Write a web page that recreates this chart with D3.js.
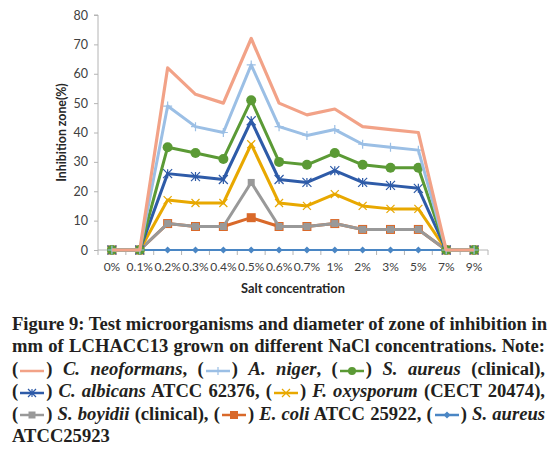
<!DOCTYPE html>
<html><head><meta charset="utf-8">
<script src="https://cdn.jsdelivr.net/npm/d3@7"></script>
<style>
html,body{margin:0;padding:0;background:#fff;}
#wrap{position:relative;width:555px;height:450px;overflow:hidden;}
#chart{position:absolute;left:0;top:0;}
#cap{position:absolute;left:12px;top:313px;width:533px;font-family:"Liberation Serif",serif;font-weight:bold;font-size:18.6px;color:#231f20;line-height:22.4px;}
#cap .ln{white-space:nowrap;text-align:justify;text-align-last:justify;height:22.4px;}
#cap .ln.last{text-align-last:left;}
#cap svg{display:inline-block;vertical-align:middle;margin:0 1px;}
</style></head>
<body><div id="wrap"><svg id="chart" width="555" height="305"></svg><div id="cap"></div></div>
<script>
const categories = ["0%","0.1%","0.2%","0.3%","0.4%","0.5%","0.6%","0.7%","1%","2%","3%","5%","7%","9%"];
const yTicks = [0,10,20,30,40,50,60,70,80];
const seriesNames = ["S. aureus ATCC25923","E. coli ATCC 25922","S. boyidii (clinical)","F. oxysporum (CECT 20474)","C. albicans ATCC 62376","S. aureus (clinical)","A. niger","C. neoformans"];
const sAureusATCC = [0,0,0,0,0,0,0,0,0,0,0,0,0,0];
const eColi       = [0,0,9,8,8,11,8,8,9,7,7,7,0,0];
const sBoyidii    = [0,0,9,8,8,23,8,8,9,7,7,7,0,0];
const fOxysporum  = [0,0,17,16,16,36,16,15,19,15,14,14,0,0];
const cAlbicans   = [0,0,26,25,24,44,24,23,27,23,22,21,0,0];
const sAureusClin = [0,0,35,33,31,51,30,29,33,29,28,28,0,0];
const aNiger      = [0,0,49,42,40,63,42,39,41,36,35,34,0,0];
const cNeoformans = [0,0,62,53,50,72,50,46,48,42,41,40,0,0];
const seriesValues = [sAureusATCC,eColi,sBoyidii,fOxysporum,cAlbicans,sAureusClin,aNiger,cNeoformans];

const styles = [
  {color:"#4a86c4", w:2,   marker:"diamond", size:7},
  {color:"#d9692a", w:3,   marker:"square",  size:9},
  {color:"#999999", w:3,   marker:"square",  size:7},
  {color:"#e8a800", w:3,   marker:"x",       size:8},
  {color:"#2e5ba8", w:3,   marker:"star",    size:9},
  {color:"#5b9a35", w:3,   marker:"circle",  size:10},
  {color:"#9bbfe5", w:3,   marker:"plus",    size:9},
  {color:"#f2a287", w:3.2, marker:null,      size:0}
];

function drawMarker(g, type, size, color, px, py){
  const h = size/2;
  if(type==="diamond"){
    g.append("path").attr("d",`M${px},${py-h}L${px+h},${py}L${px},${py+h}L${px-h},${py}Z`).attr("fill",color);
  } else if(type==="square"){
    g.append("rect").attr("x",px-h).attr("y",py-h).attr("width",size).attr("height",size).attr("fill",color);
  } else if(type==="circle"){
    g.append("circle").attr("cx",px).attr("cy",py).attr("r",h).attr("fill",color);
  } else if(type==="x"){
    g.append("path").attr("d",`M${px-h},${py-h}L${px+h},${py+h}M${px-h},${py+h}L${px+h},${py-h}`).attr("stroke",color).attr("stroke-width",1.2).attr("fill","none");
  } else if(type==="star"){
    g.append("path").attr("d",`M${px-h},${py-h}L${px+h},${py+h}M${px-h},${py+h}L${px+h},${py-h}M${px},${py-h}L${px},${py+h}`).attr("stroke",color).attr("stroke-width",1.2).attr("fill","none");
  } else if(type==="plus"){
    g.append("path").attr("d",`M${px-h},${py}L${px+h},${py}M${px},${py-h}L${px},${py+h}`).attr("stroke",color).attr("stroke-width",1.2).attr("fill","none");
  }
}

const svg = d3.select("#chart");
const pLeft=98, pRight=488, pTop=15, pBottom=250;
const x = d3.scaleBand().domain(categories).range([pLeft,pRight]);
const y = d3.scaleLinear().domain([0,80]).range([pBottom,pTop]);
const xc = c => x(c)+x.bandwidth()/2;
const axisColor="#b4b4b4";

// y axis
const ya = svg.append("g").attr("transform",`translate(${pLeft},0)`)
  .call(d3.axisLeft(y).tickValues(yTicks).tickSize(4).tickPadding(6));
ya.select(".domain").attr("stroke",axisColor).attr("d",`M-4,${pTop}H0V${pBottom}`);
ya.selectAll(".tick line").attr("stroke",axisColor);
ya.selectAll(".tick text").attr("font-family","Lato, sans-serif").attr("font-size",12.5).attr("fill","#404040");

// x axis
const xa = svg.append("g").attr("transform",`translate(0,${pBottom})`)
  .call(d3.axisBottom(x).tickSize(0).tickPadding(12));
xa.select(".domain").attr("stroke",axisColor).attr("d",`M${pLeft},0H${pRight}`);
xa.selectAll(".tick text").attr("font-family","Lato, sans-serif").attr("font-size",12).attr("fill","#404040");
svg.append("g").selectAll("line").data(categories.concat(["__end"])).join("line")
  .attr("x1",(d,i)=> i<categories.length ? x(d) : pRight).attr("x2",(d,i)=> i<categories.length ? x(d) : pRight)
  .attr("y1",pBottom).attr("y2",pBottom+5).attr("stroke",axisColor);

// titles
svg.append("text").attr("x",(pLeft+pRight)/2).attr("y",293).attr("text-anchor","middle")
  .attr("font-family","Lato, sans-serif").attr("font-weight","bold").attr("font-size",12.8).attr("fill","#262626")
  .text("Salt concentration");
svg.append("text").attr("transform",`translate(66,${(pTop+pBottom)/2}) rotate(-90)`).attr("text-anchor","middle")
  .attr("font-family","Lato, sans-serif").attr("font-weight","bold").attr("font-size",12.3).attr("fill","#262626")
  .text("Inhibition zone(%)");

// series
const line = d3.line().x((d,i)=>xc(categories[i])).y(d=>y(d));
seriesValues.forEach((vals,si)=>{
  const st = styles[si];
  const g = svg.append("g");
  g.append("path").attr("d",line(vals)).attr("fill","none").attr("stroke",st.color)
    .attr("stroke-width",st.w).attr("stroke-linejoin","round");
  if(st.marker){
    vals.forEach((v,i)=>drawMarker(g, st.marker, st.size, st.color, xc(categories[i]), y(v)));
  }
});

// caption
const capLines = [
  [{t:"Figure 9: Test microorganisms and diameter of zone of inhibition in"}],
  [{t:"mm of LCHACC13 grown on different NaCl concentrations. Note:"}],
  [{t:"("},{icon:7},{t:") "},{t:"C. neoformans",i:1},{t:", ("},{icon:6},{t:") "},{t:"A. niger",i:1},{t:", ("},{icon:5},{t:") "},{t:"S. aureus",i:1},{t:" (clinical),"}],
  [{t:"("},{icon:4},{t:") "},{t:"C. albicans",i:1},{t:" ATCC 62376, ("},{icon:3},{t:") "},{t:"F. oxysporum",i:1},{t:" (CECT 20474),"}],
  [{t:"("},{icon:2},{t:") "},{t:"S. boyidii",i:1},{t:" (clinical), ("},{icon:1},{t:") "},{t:"E. coli",i:1},{t:" ATCC 25922, ("},{icon:0},{t:") "},{t:"S. aureus",i:1}],
  [{t:"ATCC25923"}]
];
const cap = d3.select("#cap");
capLines.forEach((segs,li)=>{
  const ln = cap.append("div").attr("class","ln"+(li===capLines.length-1?" last":""));
  segs.forEach(s=>{
    if(s.icon!==undefined){
      const st = styles[s.icon];
      const isvg = ln.append("svg").attr("width",26).attr("height",10);
      isvg.append("line").attr("x1",1).attr("x2",25).attr("y1",5).attr("y2",5).attr("stroke",st.color).attr("stroke-width",2.5);
      if(st.marker){
        drawMarker(isvg, st.marker, Math.min(st.size,8), st.color, 13, 5);
      }
    } else {
      ln.append("span").style("font-style", s.i ? "italic" : null).text(s.t);
    }
  });
});
</script></body></html>
